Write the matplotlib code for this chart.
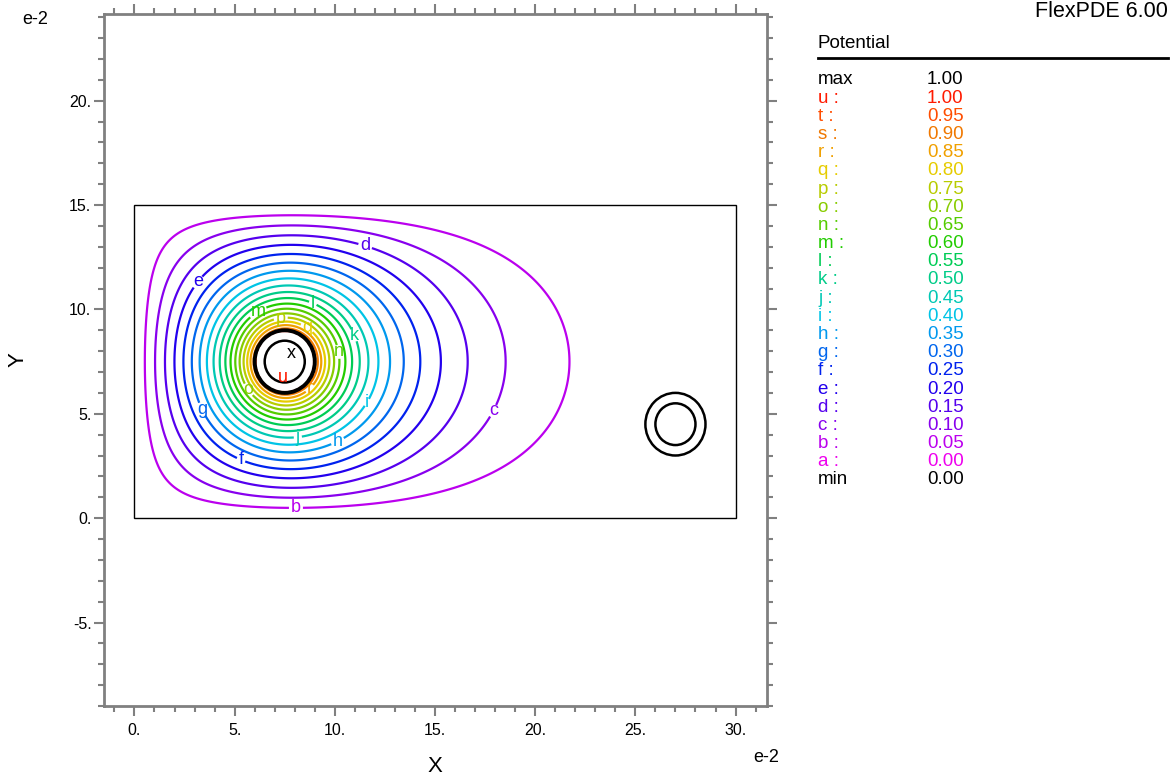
import numpy as np
import matplotlib
matplotlib.use("Agg")
import matplotlib.pyplot as plt
from matplotlib.ticker import MultipleLocator, FuncFormatter
from matplotlib.patches import Circle, Rectangle

plt.rcParams['font.family'] = ['Liberation Sans', 'DejaVu Sans']

# ---------------- data ----------------
letters = ["a", "b", "c", "d", "e", "f", "g", "h", "i", "j", "k",
           "l", "m", "n", "o", "p", "q", "r", "s", "t", "u"]
levels = [0.00, 0.05, 0.10, 0.15, 0.20, 0.25, 0.30, 0.35, 0.40, 0.45, 0.50,
          0.55, 0.60, 0.65, 0.70, 0.75, 0.80, 0.85, 0.90, 0.95, 1.00]
level_colors = ["#ee00ee", "#bb00ee", "#8800ee", "#5500ee", "#2200ee", "#0022ee",
                "#0066ee", "#0099ee", "#00c4e6", "#00c8b4", "#00cc88", "#00cc55",
                "#22cc00", "#55cc00", "#88cc00", "#b8cc00", "#e6cc00", "#f0a000",
                "#f07800", "#ff4d00", "#ff1a00"]
vmax, vmin = 1.00, 0.00

# contour label anchors (letter, x, y)
label_letters = ["b", "c", "d", "e", "f", "g", "h", "i", "j", "k", "l",
                 "m", "n", "o", "p", "q", "r"]
label_x = [8.06, 17.85, 11.5, 3.17, 5.27, 3.27, 10.16, 11.66, 8.16, 10.86, 8.95,
           6.17, 10.1, 5.6, 7.3, 8.6, 8.75]
label_y = [0.38, 5.17, 12.99, 11.31, 2.68, 5.17, 3.64, 5.51, 3.83, 8.72, 10.4,
           9.87, 7.95, 6.1, 9.58, 9.1, 6.2]

# geometry of the problem (domain box, source and second conductor)
box_w, box_h = 30.0, 15.0
src_x, src_y = 7.5, 7.5
ring_out, ring_in = 1.5, 1.0
unit_radius = 1.32          # radius at which the potential reaches 1.0
far_x, far_y = 27.0, 4.5

# ---------------- field: grounded box with a 1 V conductor ----------------
gx = np.linspace(0.0, box_w, 601)
gy = np.linspace(0.0, box_h, 301)
X, Y = np.meshgrid(gx, gy)


def strip(dx, yy):
    c = np.cosh(np.pi * dx / box_h)
    with np.errstate(divide="ignore", invalid="ignore"):
        return np.log((c - np.cos(np.pi * (yy + src_y) / box_h)) /
                      (c - np.cos(np.pi * (yy - src_y) / box_h))) / (4 * np.pi)


def green(xx, yy):
    g = np.zeros_like(xx, dtype=float)
    for m in range(-2, 3):
        g += strip(xx - src_x - 2 * m * box_w, yy) - strip(xx + src_x - 2 * m * box_w, yy)
    return g


ang = np.linspace(0, 2 * np.pi, 72, endpoint=False)
g_ref = np.mean(green(src_x + unit_radius * np.cos(ang), src_y + unit_radius * np.sin(ang)))
with np.errstate(divide="ignore", invalid="ignore"):
    phi = green(X, Y) / g_ref
R = np.hypot(X - src_x, Y - src_y)
phi = np.where(R < ring_out, 1.02, phi)
phi = np.nan_to_num(phi, nan=1.02, posinf=1.02, neginf=0.0)

# ---------------- figure ----------------
W, H = 1172, 776
fig = plt.figure(figsize=(W / 100, H / 100), dpi=100)
ax = fig.add_axes([104 / W, 70 / H, 663 / W, 692 / H])
ax.set_xlim(-1.52, 31.57)
ax.set_ylim(-9.0, 24.15)

label_pos = {l: (x, y) for l, x, y in zip(label_letters, label_x, label_y)}
for let, lev, col in zip(letters[1:], levels[1:], level_colors[1:]):
    cs = ax.contour(X, Y, phi, levels=[lev], colors=[col], linewidths=1.6)
    if let in label_pos:
        txts = cs.clabel([lev], manual=[label_pos[let]], inline=True,
                         inline_spacing=2, fontsize=13, fmt={lev: let})
        for t in txts:
            t.set_rotation(0)

# inner noisy region labels
ax.text(src_x - 0.1, src_y - 0.75, "u", color=level_colors[-1], fontsize=13,
        ha="center", va="center", zorder=5)
ax.text(src_x + 0.35, src_y + 0.4, "x", color="black", fontsize=13,
        ha="center", va="center", zorder=5)

# domain box and conductor rings
ax.add_patch(Rectangle((0, 0), box_w, box_h, fill=False, ec="black", lw=1.0, zorder=3))
ax.add_patch(Circle((src_x, src_y), ring_out, fill=False, ec="black", lw=2.8, zorder=4))
ax.add_patch(Circle((src_x, src_y), ring_in, fill=False, ec="black", lw=1.8, zorder=4))
ax.add_patch(Circle((far_x, far_y), ring_out, fill=False, ec="black", lw=1.8, zorder=4))
ax.add_patch(Circle((far_x, far_y), ring_in, fill=False, ec="black", lw=1.8, zorder=4))

# axes styling
for s in ax.spines.values():
    s.set_color("#808080")
    s.set_linewidth(2)
ax.xaxis.set_major_locator(MultipleLocator(5))
ax.xaxis.set_minor_locator(MultipleLocator(1))
ax.yaxis.set_major_locator(MultipleLocator(5))
ax.yaxis.set_minor_locator(MultipleLocator(1))
fmt = FuncFormatter(lambda v, p: f"{v:.0f}.")
ax.xaxis.set_major_formatter(fmt)
ax.yaxis.set_major_formatter(fmt)
ax.tick_params(which="both", direction="out", top=True, right=True, color="#808080",
               width=1.5, labelsize=11.5, labelcolor="black")
ax.tick_params(which="major", length=7, pad=2)
ax.tick_params(which="minor", length=4)
ax.tick_params(axis="x", which="major", pad=5)

fig.text(35 / W, 1 - 19 / H, "e-2", fontsize=13, ha="center", va="center")
fig.text(766 / W, 1 - 758 / H, "e-2", fontsize=13, ha="center", va="center")
fig.text(435 / W, 1 - 766 / H, "X", fontsize=16, ha="center", va="center")
fig.text(18 / W, 1 - 360 / H, "Y", fontsize=16, ha="center", va="center", rotation=90)

# legend panel
fig.text(1168 / W, 1 - 17 / H, "FlexPDE 6.00", fontsize=15.5, ha="right", va="baseline")
fig.text(818 / W, 1 - 44 / H, "Potential", fontsize=13.5, ha="left", va="center")
fig.add_artist(plt.Line2D([818 / W, 1168 / W], [1 - 58 / H, 1 - 58 / H],
                          color="black", lw=2, transform=fig.transFigure))

rows = [("max", f"{vmax:.2f}", "black")]
for let, lev, col in reversed(list(zip(letters, levels, level_colors))):
    rows.append((f"{let} :", f"{lev:.2f}", col))
rows.append(("min", f"{vmin:.2f}", "black"))
for i, (a, b, col) in enumerate(rows):
    yy = 1 - (80 + i * 18.18) / H
    fig.text(818 / W, yy, a, fontsize=13.5, color=col, ha="left", va="center")
    fig.text(927 / W, yy, b, fontsize=13.5, color=col, ha="left", va="center")

fig.savefig("out.png", dpi=100)
